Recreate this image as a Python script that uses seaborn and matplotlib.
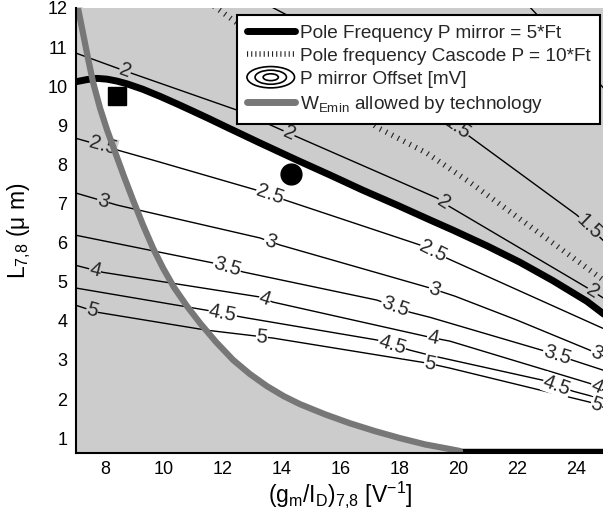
import numpy as np
import pandas as pd
import matplotlib
matplotlib.use("Agg")
import matplotlib.pyplot as plt
import seaborn as sns
from matplotlib.patches import Ellipse, Rectangle, Polygon
from matplotlib.legend_handler import HandlerBase
from matplotlib.lines import Line2D

# ---------------- data ----------------
x_ticks = [8, 10, 12, 14, 16, 18, 20, 22, 24]
y_ticks = [1, 2, 3, 4, 5, 6, 7, 8, 9, 10, 11, 12]

# offset contours [mV]
c1_x = [22.40, 22.75, 25.0]
c1_y = [12.05, 11.77, 9.90]
c15_x = [13.60, 14.18, 19.96, 24.04, 25.0]
c15_y = [12.05, 11.82, 8.95, 6.70, 6.00]
c2_x = [7.0, 8.68, 12.48, 14.39, 19.28, 19.62, 24.37, 25.0]
c2_y = [10.85, 10.39, 9.39, 8.75, 7.14, 6.96, 4.85, 4.55]
c25_x = [7.0, 9.63, 13.16, 14.11, 18.70, 19.62, 24.82, 25.0]
c25_y = [8.67, 8.11, 7.34, 7.09, 5.94, 5.60, 3.84, 3.78]
c3_x = [7.0, 8.41, 13.26, 13.94, 19.04, 19.89, 21.99, 24.47, 25.0]
c3_y = [7.27, 6.96, 6.12, 5.94, 4.84, 4.63, 4.02, 3.25, 3.08]
c35_x = [7.0, 11.67, 12.69, 17.24, 18.36, 19.04, 22.88, 23.90, 25.0]
c35_y = [6.19, 5.48, 5.25, 4.53, 4.22, 4.09, 3.24, 2.99, 2.72]
c4_x = [7.0, 7.93, 13.26, 13.70, 19.04, 19.72, 24.47, 25.0]
c4_y = [5.42, 5.24, 4.61, 4.48, 3.58, 3.48, 2.40, 2.20]
c45_x = [7.0, 11.46, 12.69, 17.24, 18.36, 19.04, 22.88, 23.90, 25.0]
c45_y = [4.84, 4.27, 4.09, 3.51, 3.25, 3.12, 2.48, 2.20, 1.98]
c5_x = [7.0, 7.73, 11.46, 13.70, 18.94, 19.72, 24.47, 25.0]
c5_y = [4.40, 4.22, 3.76, 3.56, 2.92, 2.79, 1.92, 1.77]

# contour label x positions along each contour
labels_15 = [19.96, 24.45]
labels_2 = [8.68, 14.25, 19.5, 24.57]
labels_25 = [7.93, 13.6, 19.15]
labels_3 = [7.93, 13.6, 19.2, 24.7]
labels_35 = [12.14, 17.85, 23.35]
labels_4 = [7.66, 13.43, 19.14, 24.7]
labels_45 = [12.0, 17.75, 23.35]
labels_5 = [7.56, 13.33, 19.04, 24.7]

# pole frequency P mirror = 5*Ft
pole5_x = [6.98, 7.39, 7.73, 8.07, 8.41, 8.75, 9.29, 9.87, 10.44, 10.99, 11.56, 12.14,
           13.26, 14.52, 15.64, 16.76, 17.92, 19.04, 19.82, 20.97, 22.09, 23.21, 24.37, 25.0]
pole5_y = [10.11, 10.17, 10.20, 10.18, 10.13, 10.06, 9.92, 9.74, 9.55, 9.36, 9.16, 8.95,
           8.55, 8.11, 7.73, 7.34, 6.96, 6.58, 6.32, 5.92, 5.50, 5.03, 4.50, 4.14]
# pole frequency cascode P = 10*Ft
pole10_x = [11.70, 12.48, 17.24, 18.93, 20.40, 24.81, 25.0]
pole10_y = [12.05, 11.62, 8.95, 8.29, 7.54, 5.11, 5.00]
# W_Emin allowed by technology
wmin_x = [7.05, 7.08, 7.25, 7.42, 7.59, 7.83, 8.07, 8.34, 8.64, 8.95, 9.29, 9.63, 9.97,
          10.34, 10.78, 11.23, 11.77, 12.35, 12.92, 13.50, 14.08, 14.62, 15.47, 16.32,
          17.17, 18.02, 18.87, 19.72, 20.06]
wmin_y = [12.12, 12.0, 11.36, 10.72, 10.11, 9.44, 8.88, 8.32, 7.70, 7.09, 6.45, 5.86, 5.35,
          4.86, 4.38, 3.94, 3.46, 3.00, 2.64, 2.33, 2.07, 1.87, 1.61, 1.38,
          1.18, 1.00, 0.84, 0.72, 0.67]

# design points
square_pt = (8.41, 9.76)
circle_pt = (14.33, 7.75)

X_LIM = (7, 25)
Y_LIM = (0.62, 12)

# ---------------- style ----------------
sns.set_theme(style="white")
plt.rcParams["font.family"] = ["Liberation Sans", "DejaVu Sans"]
plt.rcParams["mathtext.fontset"] = "custom"
plt.rcParams["mathtext.rm"] = "Liberation Sans"
plt.rcParams["mathtext.it"] = "Liberation Sans:italic"
plt.rcParams["mathtext.bf"] = "Liberation Sans:bold"

GRAY_BG = "#cccccc"
GRAY_LINE = "#777777"
DOT_STYLE = (0, (0.2, 1.0))

fig = plt.figure(figsize=(6.03, 5.11), dpi=100)
fig.patch.set_facecolor("white")
ax = fig.add_axes([75.6 / 603, 58 / 511, 529.8 / 603, 445 / 511])
ax.set_xlim(*X_LIM)
ax.set_ylim(*Y_LIM)
ax.set_axisbelow(True)

# gray background and white feasible region
ax.add_patch(Rectangle((0, 0), 1, 1, transform=ax.transAxes, facecolor=GRAY_BG,
                       edgecolor="none", zorder=0.8))
wx = np.array(wmin_x); wy = np.array(wmin_y)
px = np.array(pole5_x); py = np.array(pole5_y)
x0 = 7.59
selw = wx >= x0
verts = [(x0, np.interp(x0, px, py))]
verts += list(zip(wx[selw], wy[selw]))
verts += [(wx[-1], Y_LIM[0]), (X_LIM[1], Y_LIM[0])]
sel = px > x0
verts += list(zip(px[sel][::-1], py[sel][::-1]))
ax.add_patch(Polygon(verts, closed=True, facecolor="white", edgecolor="none", zorder=0.9))

# contours
contours = [
    ("1", c1_x, c1_y, []),
    ("1.5", c15_x, c15_y, labels_15),
    ("2", c2_x, c2_y, labels_2),
    ("2.5", c25_x, c25_y, labels_25),
    ("3", c3_x, c3_y, labels_3),
    ("3.5", c35_x, c35_y, labels_35),
    ("4", c4_x, c4_y, labels_4),
    ("4.5", c45_x, c45_y, labels_45),
    ("5", c5_x, c5_y, labels_5),
]

def angle_at(xs, ys, xq, d=0.3):
    a = ax.transData.transform((xq - d, np.interp(xq - d, xs, ys)))
    b = ax.transData.transform((xq + d, np.interp(xq + d, xs, ys)))
    return np.degrees(np.arctan2(b[1] - a[1], b[0] - a[0]))

def in_gray(xq, yq):
    above = yq > np.interp(xq, px, py)
    left = xq < np.interp(yq, wy[::-1], wx[::-1])
    return above or left

for txt, cx, cy, labx in contours:
    sns.lineplot(x=cx, y=cy, ax=ax, color="black", linewidth=1.0, sort=False,
                 estimator=None, zorder=2)
    for lx in labx:
        ly = float(np.interp(lx, cx, cy))
        bg = GRAY_BG if in_gray(lx, ly) else "white"
        ax.text(lx, ly, txt, fontsize=14.5, ha="center", va="center",
                rotation=angle_at(cx, cy, lx), rotation_mode="anchor",
                bbox=dict(boxstyle="square,pad=0.02", fc=bg, ec="none"),
                zorder=3, clip_on=True)

# pole frequency curves
sns.lineplot(x=pole10_x, y=pole10_y, ax=ax, color="#222222", linewidth=4.0,
             linestyle=DOT_STYLE, sort=False, estimator=None, zorder=3.5)
sns.lineplot(x=pole5_x, y=pole5_y, ax=ax, color="black", linewidth=5,
             sort=False, estimator=None, zorder=4)
# W_Emin
sns.lineplot(x=wmin_x, y=wmin_y, ax=ax, color=GRAY_LINE, linewidth=4.5,
             sort=False, estimator=None, zorder=4.5)
# bottom boundary of the feasible region
ax.plot([wx[-1], X_LIM[1]], [Y_LIM[0] + 0.05, Y_LIM[0] + 0.05], color="black",
        lw=3.2, solid_capstyle="butt", clip_on=False, zorder=4)

# design points
ax.plot(*square_pt, marker="s", ms=13, color="black", zorder=5)
ax.plot(*circle_pt, marker="o", ms=15, color="black", zorder=5)

# axes cosmetics
ax.set_xticks(x_ticks)
ax.set_yticks(y_ticks)
ax.tick_params(direction="in", length=4, width=1, colors="black", labelsize=13,
               pad=6, bottom=True, left=True)
for s in ("top", "right"):
    ax.spines[s].set_visible(False)
for s in ("left", "bottom"):
    ax.spines[s].set_color("black")
    ax.spines[s].set_linewidth(1.5)
    ax.spines[s].set_zorder(6)

ax.set_xlabel(r"$\mathrm{(g_m/I_D)_{7{,}8}\ [V^{-1}]}$", fontsize=16.5, color="black")
ax.set_ylabel(r"$\mathrm{L_{7{,}8}}$ (μ m)", fontsize=16.5, color="black")
ax.xaxis.set_label_coords(0.5, -0.058)
ax.yaxis.set_label_coords(-0.08, 0.5)

# legend
class ContourIcon:
    pass

class HandlerEllipses(HandlerBase):
    def create_artists(self, legend, orig_handle, xdescent, ydescent, width,
                       height, fontsize, trans):
        cx = 0.5 * width - xdescent
        cy = 0.5 * height - ydescent
        arts = []
        for f in (1.0, 0.66, 0.32):
            arts.append(Ellipse((cx, cy), width * f, height * 1.6 * f, fill=False,
                                edgecolor="black", lw=1.2, transform=trans))
        return arts

handles = [
    Line2D([], [], color="black", lw=5),
    Line2D([], [], color="#222222", lw=4.0, linestyle=(0, (0.2, 0.55))),
    ContourIcon(),
    Line2D([], [], color=GRAY_LINE, lw=5),
]
labels = [
    "Pole Frequency P mirror = 5*Ft",
    "Pole frequency Cascode P = 10*Ft",
    "P mirror Offset [mV]",
    r"$\mathrm{W_{Emin}}$ allowed by technology",
]
leg = ax.legend(handles, labels, handler_map={ContourIcon: HandlerEllipses()},
                loc="upper right", bbox_to_anchor=(0.9898, 0.9843), borderaxespad=0,
                fontsize=13.7, handlelength=2.5, handletextpad=0.28, borderpad=0.5,
                labelspacing=0.3, frameon=True, fancybox=False, framealpha=1,
                edgecolor="black", facecolor="white")
leg.get_frame().set_linewidth(1.5)
leg.set_zorder(10)

fig.savefig("out.png", dpi=100)
